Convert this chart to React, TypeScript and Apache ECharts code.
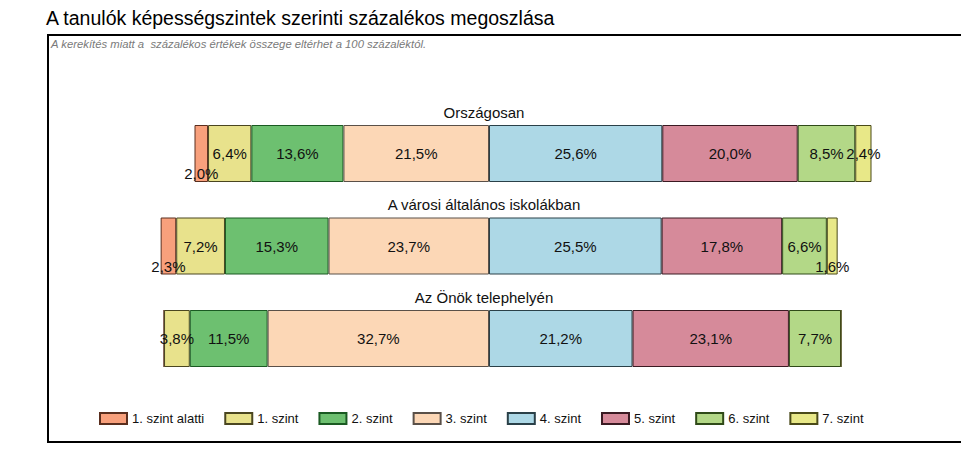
import React, { useEffect, useRef } from "react";
import * as echarts from "echarts";

const categories = ["Országosan", "A városi általános iskolákban", "Az Önök telephelyén"];
const levelNames = [
  "1. szint alatti",
  "1. szint",
  "2. szint",
  "3. szint",
  "4. szint",
  "5. szint",
  "6. szint",
  "7. szint",
];
const belowLevel1 = [2.0, 2.3, 0];
const level1 = [6.4, 7.2, 3.8];
const level2 = [13.6, 15.3, 11.5];
const level3 = [21.5, 23.7, 32.7];
const level4 = [25.6, 25.5, 21.2];
const level5 = [20.0, 17.8, 23.1];
const level6 = [8.5, 6.6, 7.7];
const level7 = [2.4, 1.6, 0];

const levelColors = ["#F8A07C", "#E8E28C", "#6DC070", "#FCD7B6", "#ADD8E6", "#D68A9A", "#B3D887", "#E8E888"];
const levelBorders = ["#5a2e1e", "#4a4620", "#1a5a22", "#5a5048", "#2a4048", "#3a1a22", "#2f4a18", "#4a4a18"];

const FONT = "'Liberation Sans', Arial, sans-serif";

export default function App() {
  const ref = useRef<HTMLDivElement>(null);
  useEffect(() => {
    document.body.style.margin = "0";
    if (!ref.current) return;
    const chart = echarts.init(ref.current, null, { renderer: "svg" });
    const levels = [belowLevel1, level1, level2, level3, level4, level5, level6, level7];
    const center = 60; // value of 3./4. boundary
    const offsets = categories.map((_, i) => center - (belowLevel1[i] + level1[i] + level2[i] + level3[i]));
    const lowered: Record<string, boolean> = { "0-0": true, "0-1": true, "7-1": true };

    const fmt = (v: number) => (v ? v.toFixed(1).replace(".", ",") + "%" : "");

    const series: any[] = [
      {
        type: "bar",
        name: "_base",
        stack: "all",
        silent: true,
        data: offsets,
        itemStyle: { color: "transparent", borderWidth: 0 },
        label: { show: false },
        barWidth: 57,
      },
    ];
    levels.forEach((arr, s) => {
      series.push({
        type: "bar",
        name: levelNames[s],
        stack: "all",
        barWidth: 57,
        itemStyle: { color: levelColors[s], borderColor: levelBorders[s], borderWidth: 1 },
        label: {
          show: true,
          position: "inside",
          fontSize: 15,
          fontFamily: FONT,
          color: "#111",
          formatter: (p: any) => fmt(p.value),
        },
        data: arr.map((v, i) =>
          lowered[s + "-" + i] ? { value: v, label: { offset: [0, 20] } } : v
        ),
      });
    });

    const barCenters = [153.5, 246, 338.5];

    chart.setOption({
      animation: false,
      grid: { left: 82.8, width: 812.4, top: 107.25, height: 277.5 },
      xAxis: { type: "value", min: 0, max: 120, show: false },
      yAxis: { type: "category", data: categories, inverse: true, show: false },
      legend: {
        data: levelNames,
        left: 94,
        top: 407,
        icon: "rect",
        itemWidth: 27,
        itemHeight: 11,
        itemGap: 20,
        textStyle: { fontSize: 13, fontFamily: FONT, color: "#111" },
        selectedMode: false,
      },
      graphic: [
        {
          type: "text",
          left: 46,
          top: 8,
          style: { text: "A tanulók képességszintek szerinti százalékos megoszlása", fontSize: 19.5, fontFamily: FONT, fill: "#000" },
        },
        {
          type: "text",
          left: 51,
          top: 38,
          style: {
            text: "A kerekítés miatt a  százalékos értékek összege eltérhet a 100 százaléktól.",
            fontSize: 11.3,
            fontStyle: "italic",
            fontFamily: FONT,
            fill: "#7a7a7a",
          },
        },
        {
          type: "polyline",
          shape: { points: [[961, 35], [48, 35], [48, 442], [961, 442]] },
          style: { stroke: "#000", lineWidth: 2, fill: "none" },
        },
        ...categories.map((c, i) => ({
          type: "text",
          x: 484,
          y: barCenters[i] - 41.5,
          style: { text: c, fontSize: 15, fontFamily: FONT, fill: "#111", align: "center", verticalAlign: "middle" },
        })),
      ],
      series,
    });
    return () => chart.dispose();
  }, []);
  return <div ref={ref} style={{ width: 961, height: 464 }} />;
}
